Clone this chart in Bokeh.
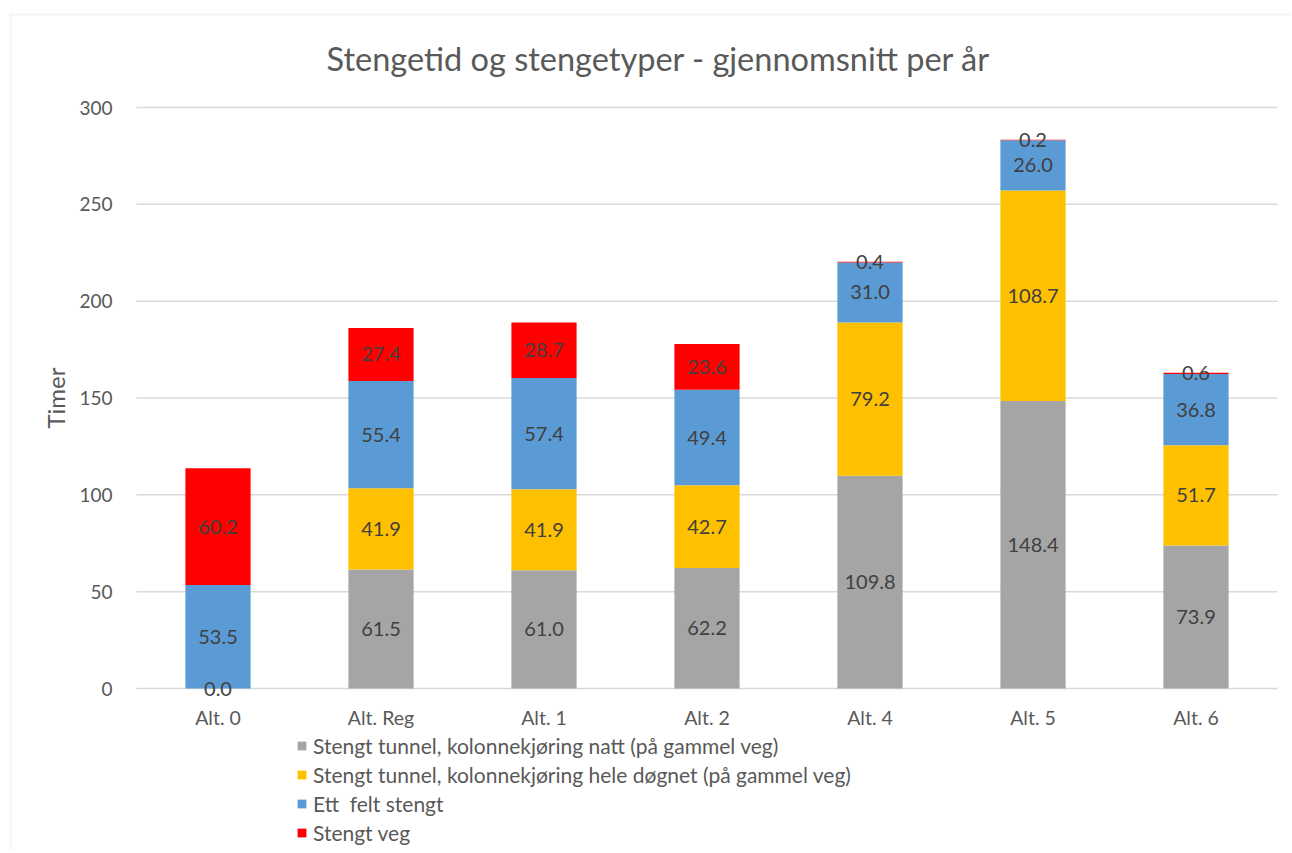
from bokeh.plotting import figure
from bokeh.models import (ColumnDataSource, Legend, LegendItem, LabelSet, Label, Range1d,
                          FixedTicker, BoxAnnotation)
from bokeh.embed import file_html
from bokeh.resources import INLINE
from bokeh.core.properties import value

categories = ["Alt. 0", "Alt. Reg", "Alt. 1", "Alt. 2", "Alt. 4", "Alt. 5", "Alt. 6"]
natt = [0.0, 61.5, 61.0, 62.2, 109.8, 148.4, 73.9]
dognet = [None, 41.9, 41.9, 42.7, 79.2, 108.7, 51.7]
felt = [53.5, 55.4, 57.4, 49.4, 31.0, 26.0, 36.8]
veg = [60.2, 27.4, 28.7, 23.6, 0.4, 0.2, 0.6]

series_names = [
    "Stengt tunnel, kolonnekjøring natt (på gammel veg)",
    "Stengt tunnel, kolonnekjøring hele døgnet (på gammel veg)",
    "Ett  felt stengt",
    "Stengt veg",
]
colors = ["#A5A5A5", "#FFC000", "#5B9BD5", "#FF0000"]
series = [natt, dognet, felt, veg]
y_ticks = [0, 50, 100, 150, 200, 250, 300]
title_text = "Stengetid og stengetyper - gjennomsnitt per år"

FONT = "Lato"
TXT = "#595959"
GRID = "#D9D9D9"

# ---- layout (pixels) ----
W, H = 1290, 850
CAT_PX = 163.0          # pixel width of one category slot
X0_PX = 217.5           # pixel centre of first category
Y0_PX, Y300_PX = 688.0, 107.0
KY = (Y0_PX - Y300_PX) / 300.0

def xd(px):
    return (px - X0_PX) / CAT_PX

def yd(py):
    return (Y0_PX - py) / KY

xs = list(range(len(categories)))

p = figure(x_range=Range1d(xd(0), xd(W)), y_range=Range1d(yd(H), yd(0)),
           width=W, height=H, output_backend="svg", toolbar_location=None,
           min_border_left=0, min_border_right=0, min_border_top=0, min_border_bottom=0)
p.outline_line_color = None
p.background_fill_color = "white"
p.border_fill_color = "white"
p.xgrid.visible = False
p.ygrid.visible = False

# chart border
p.add_layout(BoxAnnotation(left=xd(10), right=xd(W + 20), top=yd(14), bottom=yd(H + 20),
                           fill_alpha=0, line_color=GRID, line_width=2))

# gridlines at the y ticks
p.segment(x0=[-0.5] * len(y_ticks), x1=[len(categories) - 0.5] * len(y_ticks),
          y0=y_ticks, y1=y_ticks, line_color=GRID, line_width=1.5)

bottoms = [0.0] * len(categories)
renderers = []
for vals, col, name in zip(series, colors, series_names):
    v = [x if x is not None else 0.0 for x in vals]
    tops = [b + x for b, x in zip(bottoms, v)]
    src = ColumnDataSource(dict(x=xs, bottom=bottoms, top=tops,
                                mid=[(b + t) / 2 for b, t in zip(bottoms, tops)],
                                lbl=[("%.1f" % x) if x is not None else "" for x in vals]))
    r = p.vbar(x="x", bottom="bottom", top="top", width=0.4, source=src,
               fill_color=col, line_color=None)
    renderers.append((name, r))
    ls = LabelSet(x="x", y="mid", text="lbl", source=src, text_align="center",
                  text_baseline="middle", text_font=value(FONT), text_font_size=value("20px"),
                  text_color="#404040")
    p.add_layout(ls)
    bottoms = tops

# y axis
p.yaxis.fixed_location = -0.5
p.yaxis.bounds = (0, 300)
p.yaxis.ticker = FixedTicker(ticks=y_ticks)
p.yaxis.axis_line_color = None
p.yaxis.major_tick_line_color = None
p.yaxis.minor_tick_line_color = None
p.yaxis.major_label_standoff = 18
p.yaxis.major_label_text_font = FONT
p.yaxis.major_label_text_font_size = "19px"
p.yaxis.major_label_text_color = TXT
p.yaxis.axis_label = "Timer"
p.yaxis.axis_label_text_font = FONT
p.yaxis.axis_label_text_font_size = "24px"
p.yaxis.axis_label_text_font_style = "normal"
p.yaxis.axis_label_text_color = TXT
p.yaxis.axis_label_standoff = 6

# x axis
p.xaxis.fixed_location = 0
p.xaxis.bounds = (-0.5, len(categories) - 0.5)
p.xaxis.ticker = FixedTicker(ticks=xs)
p.xaxis.major_label_overrides = {i: c for i, c in zip(xs, categories)}
p.xaxis.axis_line_color = None
p.xaxis.major_tick_line_color = None
p.xaxis.minor_tick_line_color = None
p.xaxis.major_label_standoff = 11
p.xaxis.major_label_text_font = FONT
p.xaxis.major_label_text_font_size = "19.5px"
p.xaxis.major_label_text_color = TXT

p.add_layout(Label(x=xd(658), y=yd(58), text=title_text, text_align="center",
                   text_baseline="middle", text_font=FONT, text_font_size="32.5px",
                   text_color=TXT))

legend = Legend(items=[LegendItem(label=n, renderers=[r]) for n, r in renderers],
                location=(296, 5), orientation="vertical",
                label_text_font=FONT, label_text_font_size="21px", label_text_color=TXT,
                glyph_width=11, glyph_height=11, label_height=24, spacing=4,
                label_standoff=6, padding=4, margin=0,
                border_line_color=None, background_fill_alpha=0)
p.add_layout(legend, "center")

open("out.html", "w").write(file_html(p, INLINE))
